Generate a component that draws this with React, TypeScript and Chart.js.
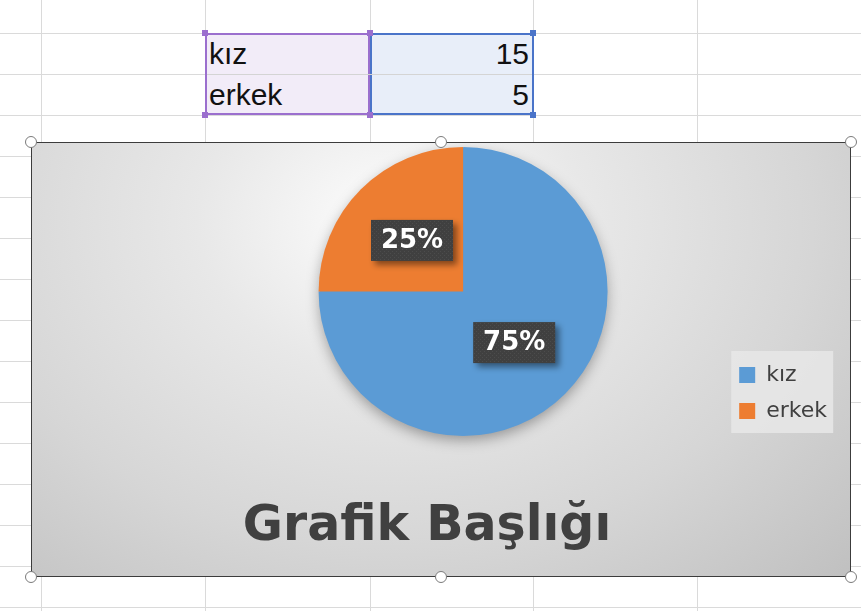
import React, { useEffect, useRef } from "react";
import { Chart, registerables } from "chart.js";

Chart.register(...registerables);

// ---- data ----
const categories = ["kız", "erkek"];
const values = [15, 5];
const sliceColors = ["#5B9BD5", "#ED7D31"];
const chartTitle = "Grafik Başlığı";

// ---- sheet grid (layout only) ----
const colLines = [41, 205, 370, 533, 697];
const rowLines = [33, 74, 115, 156, 197, 238, 279, 320, 361, 402, 443, 484, 525, 566, 607];

function makeDotPattern(ctx: CanvasRenderingContext2D) {
  const c = document.createElement("canvas");
  c.width = 4;
  c.height = 4;
  const g = c.getContext("2d")!;
  g.fillStyle = "#404040";
  g.fillRect(0, 0, 4, 4);
  g.fillStyle = "#4c4c4c";
  g.fillRect(0, 0, 1, 1);
  g.fillRect(2, 2, 1, 1);
  return ctx.createPattern(c, "repeat") || "#404040";
}

const decorPlugin = {
  id: "excelDecor",
  beforeDraw(chart: any) {
    const lg = chart.legend;
    if (!lg) return;
    const ctx = chart.ctx;
    ctx.save();
    ctx.fillStyle = "rgba(232,232,232,0.85)";
    ctx.fillRect(lg.left + 6, chart.chartArea.bottom - 85, 102, 82);
    ctx.restore();
  },
  beforeDatasetsDraw(chart: any) {
    const arc = chart.getDatasetMeta(0).data[0];
    if (!arc) return;
    const { x, y, outerRadius } = arc.getProps(["x", "y", "outerRadius"], true);
    const ctx = chart.ctx;
    ctx.save();
    ctx.shadowColor = "rgba(0,0,0,0.35)";
    ctx.shadowBlur = 14;
    ctx.shadowOffsetY = 5;
    ctx.beginPath();
    ctx.arc(x, y, outerRadius - 1, 0, Math.PI * 2);
    ctx.fillStyle = sliceColors[0];
    ctx.fill();
    ctx.restore();
  },
  afterDatasetsDraw(chart: any) {
    const ctx = chart.ctx;
    const data = chart.data.datasets[0].data as number[];
    const total = data.reduce((a, b) => a + b, 0);
    const pattern = makeDotPattern(ctx);
    chart.getDatasetMeta(0).data.forEach((el: any, i: number) => {
      const p = el.tooltipPosition(true);
      const text = Math.round((data[i] / total) * 100) + "%";
      const w = 82;
      const h = 41;
      ctx.save();
      ctx.shadowColor = "rgba(0,0,0,0.45)";
      ctx.shadowBlur = 6;
      ctx.shadowOffsetX = 4;
      ctx.shadowOffsetY = 4;
      ctx.fillStyle = pattern;
      ctx.fillRect(p.x - w / 2, p.y - h / 2, w, h);
      ctx.restore();
      ctx.save();
      ctx.fillStyle = "#ffffff";
      ctx.font = "bold 26px 'DejaVu Sans'";
      ctx.textAlign = "center";
      ctx.textBaseline = "middle";
      ctx.fillText(text, p.x, p.y + 1);
      ctx.restore();
    });
  },
  afterDraw(chart: any) {
    const ctx = chart.ctx;
    ctx.save();
    ctx.fillStyle = "#404040";
    ctx.font = "bold 49px 'DejaVu Sans'";
    ctx.textAlign = "center";
    ctx.textBaseline = "alphabetic";
    ctx.fillText(chartTitle, 395, 397);
    ctx.restore();
  },
};

function PieChart() {
  const ref = useRef<HTMLCanvasElement | null>(null);
  useEffect(() => {
    if (!ref.current) return;
    const chart = new Chart(ref.current, {
      type: "pie",
      data: {
        labels: categories,
        datasets: [
          {
            data: values,
            backgroundColor: sliceColors,
            borderWidth: 0,
            hoverBorderWidth: 0,
            offset: 0,
            hoverOffset: 0,
          },
        ],
      },
      options: {
        responsive: false,
        animation: false,
        events: [],
        layout: { padding: { left: 169, right: 13, top: 4, bottom: 140 } },
        plugins: {
          legend: {
            display: true,
            position: "right",
            align: "end",
            labels: {
              boxWidth: 16,
              boxHeight: 16,
              padding: 14,
              color: "#404040",
              font: { family: "'DejaVu Sans'", size: 22 },
            },
          },
          title: { display: false },
          tooltip: { enabled: false },
        },
      },
      plugins: [decorPlugin],
    } as any);
    return () => chart.destroy();
  }, []);
  return <canvas ref={ref} width={818} height={433} style={{ display: "block", width: 818, height: 433 }} />;
}

const handle = (x: number, y: number, key: string) => (
  <div
    key={key}
    style={{
      position: "absolute",
      left: x - 6,
      top: y - 6,
      width: 10,
      height: 10,
      borderRadius: "50%",
      background: "#fff",
      border: "1px solid #7a7a7a",
    }}
  />
);

const sq = (x: number, y: number, color: string, key: string) => (
  <div key={key} style={{ position: "absolute", left: x - 3, top: y - 3, width: 6, height: 6, background: color }} />
);

export default function App() {
  const cellText: React.CSSProperties = {
    position: "absolute",
    fontFamily: "'Liberation Sans', Arial, sans-serif",
    fontSize: 30,
    color: "#111",
    lineHeight: "41px",
    height: 41,
  };
  return (
    <div
      style={{
        position: "absolute",
        left: 0,
        top: 0,
        width: 861,
        height: 611,
        background: "#fff",
        overflow: "hidden",
      }}
    >
      {colLines.map((x) => (
        <div key={"c" + x} style={{ position: "absolute", left: x, top: 0, width: 1, height: 611, background: "#dadada" }} />
      ))}
      {rowLines.map((y) => (
        <div key={"r" + y} style={{ position: "absolute", left: 0, top: y, width: 861, height: 1, background: "#dadada" }} />
      ))}
      {/* data range */}
      <div
        style={{
          position: "absolute",
          left: 205,
          top: 33,
          width: 165,
          height: 82,
          boxSizing: "border-box",
          background: "#f2ecf8",
          border: "2px solid #9b6fce",
        }}
      />
      <div
        style={{
          position: "absolute",
          left: 370,
          top: 33,
          width: 164,
          height: 82,
          boxSizing: "border-box",
          background: "#e8eef9",
          border: "2px solid #4a74c9",
        }}
      />
      <div style={{ position: "absolute", left: 207, top: 74, width: 325, height: 1, background: "#d4d4d4" }} />
      <div style={{ ...cellText, left: 209, top: 33 }}>{categories[0]}</div>
      <div style={{ ...cellText, left: 209, top: 74 }}>{categories[1]}</div>
      <div style={{ ...cellText, left: 372, width: 157, top: 33, textAlign: "right" }}>{values[0]}</div>
      <div style={{ ...cellText, left: 372, width: 157, top: 74, textAlign: "right" }}>{values[1]}</div>
      {sq(205, 33, "#9b6fce", "s1")}
      {sq(370, 33, "#9b6fce", "s2")}
      {sq(533, 33, "#4a74c9", "s3")}
      {sq(205, 115, "#9b6fce", "s4")}
      {sq(370, 115, "#9b6fce", "s5")}
      {sq(533, 115, "#4a74c9", "s6")}
      {/* chart object */}
      <div
        style={{
          position: "absolute",
          left: 31,
          top: 142,
          width: 820,
          height: 435,
          boxSizing: "border-box",
          border: "1px solid #3c3c3c",
          background:
            "radial-gradient(ellipse farthest-corner at 44% 18%, #fdfdfd 0%, #e8e8e8 30%, #d6d6d6 65%, #c0c0c0 100%)",
        }}
      >
        <PieChart />
      </div>
      {handle(31, 142, "h1")}
      {handle(441, 142, "h2")}
      {handle(851, 142, "h3")}
      {handle(31, 577, "h4")}
      {handle(441, 577, "h5")}
      {handle(851, 577, "h6")}
    </div>
  );
}
